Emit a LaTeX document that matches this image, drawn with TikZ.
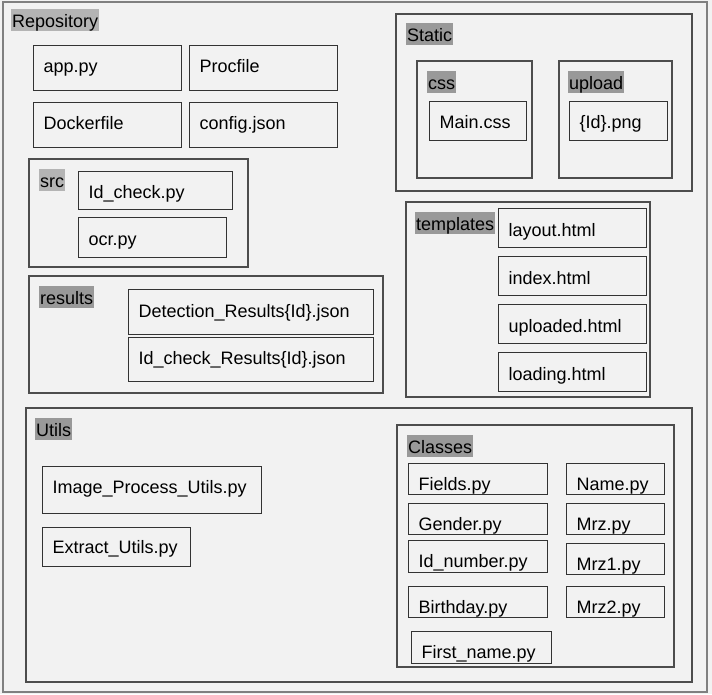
\documentclass[tikz,border=0pt]{standalone}
\usepackage{fontspec}
\setmainfont{Liberation Sans}
\definecolor{paper}{HTML}{F2F2F2}
\definecolor{rim}{HTML}{808080}
\definecolor{frameline}{HTML}{4D4D4D}
\definecolor{boxline}{HTML}{333333}
\definecolor{taglight}{HTML}{B4B4B4}
\definecolor{tagdark}{HTML}{999999}

\begin{document}
\begin{tikzpicture}[x=1pt,y=-1pt,font=\fontsize{18pt}{21pt}\selectfont,
  folder/.style={draw=frameline,line width=1.2pt},
  tag/.style={fill=#1,anchor=north west,inner xsep=1pt,inner ysep=1.5pt,text height=17pt,text depth=2pt},
  tag/.default=tagdark,
  file/.style={draw=boxline,line width=1.2pt,anchor=north west,align=left,inner xsep=10pt,inner ysep=0pt,text depth=3pt,text height=#1},
  file/.default=12pt]
\useasboundingbox[fill=paper] (0,0) rectangle (712,694);
\draw[rim,line width=2pt] (2.5,1.5) rectangle (707,692);

% Repository
\node[tag=taglight] (repo_tag) at (11,9) {Repository};
\node[file,text width=128pt,minimum height=45pt] (app) at (33,45) {app.py};
\node[file,text width=128pt,minimum height=45pt] (procfile) at (189,45) {Procfile};
\node[file,text width=128pt,minimum height=45pt] (dockerfile) at (33,102) {Dockerfile};
\node[file,text width=128pt,minimum height=45pt] (config) at (189,102) {config.json};

% src
\draw[folder] (29,159) rectangle (248,267);
\node[tag=taglight] (src_tag) at (39,169) {src};
\node[file=19pt,text width=134pt,minimum height=38pt] (id_check) at (78,171) {Id\_check.py};
\node[file=19pt,text width=128pt,minimum height=40pt] (ocr) at (78,217) {ocr.py};

% results
\draw[folder] (29,276) rectangle (383,393);
\node[tag] (results_tag) at (39,286) {results};
\node[file=13pt,text width=225pt,minimum height=45pt] (detect_res) at (128,289) {Detection\_Results\{Id\}.json};
\node[file,text width=225pt,minimum height=44pt] (check_res) at (128,337) {Id\_check\_Results\{Id\}.json};

% Static
\draw[folder] (396,14) rectangle (692,191);
\node[tag] (static_tag) at (406,23) {Static};
\draw[folder] (417,61) rectangle (532,178);
\node[tag] (css_tag) at (427,71) {css};
\node[file=18pt,text width=77pt,minimum height=39pt] (main_css) at (429,101) {Main.css};
\draw[folder] (559,61) rectangle (672,178);
\node[tag] (upload_tag) at (568,71) {upload};
\node[file=18pt,text width=78pt,minimum height=39pt] (id_png) at (569,101) {\{Id\}.png};

% templates
\draw[folder] (406,202) rectangle (650,397);
\node[tag] (templates_tag) at (415,212) {templates};
\node[file=19pt,text width=128pt,minimum height=39pt] (layout) at (498,208) {layout.html};
\node[file=19pt,text width=128pt,minimum height=39pt] (index) at (498,256) {index.html};
\node[file=19pt,text width=128pt,minimum height=39pt] (uploaded) at (498,304) {uploaded.html};
\node[file=19pt,text width=128pt,minimum height=39pt] (loading) at (498,352) {loading.html};

% Utils
\draw[folder] (26,408) rectangle (692,682);
\node[tag] (utils_tag) at (35,418) {Utils};
\node[file=10pt,text width=199pt,minimum height=47pt] (img_utils) at (42,466) {Image\_Process\_Utils.py};
\node[file=16.5pt,text width=128pt,minimum height=39pt] (extract_utils) at (42,527) {Extract\_Utils.py};

% Classes
\draw[folder] (397,425) rectangle (674,667);
\node[tag] (classes_tag) at (407,435) {Classes};
\node[file=26pt,text width=119pt,minimum height=31pt] (fields) at (408,463) {Fields.py};
\node[file=26pt,text width=78pt,minimum height=31pt] (name) at (566,463) {Name.py};
\node[file=26pt,text width=119pt,minimum height=31pt] (gender) at (408,503) {Gender.py};
\node[file=26pt,text width=78pt,minimum height=31pt] (mrz) at (566,503) {Mrz.py};
\node[file=24.5pt,text width=119pt,minimum height=32pt] (id_number) at (408,540) {Id\_number.py};
\node[file=26pt,text width=78pt,minimum height=31pt] (mrz1) at (566,543) {Mrz1.py};
\node[file=25pt,text width=119pt,minimum height=31pt] (birthday) at (408,586) {Birthday.py};
\node[file=25pt,text width=78pt,minimum height=31pt] (mrz2) at (566,586) {Mrz2.py};
\node[file=25.5pt,text width=120pt,minimum height=32pt] (first_name) at (411,631) {First\_name.py};
\end{tikzpicture}
\end{document}
